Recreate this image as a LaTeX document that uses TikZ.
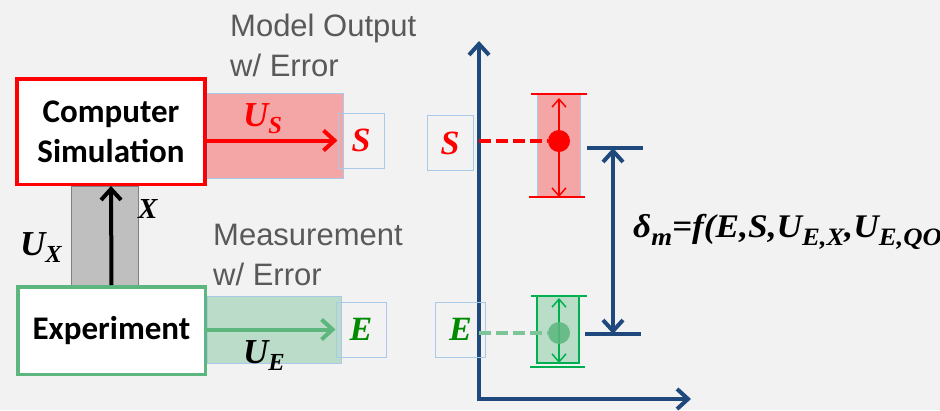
\documentclass[tikz,border=0pt]{standalone}
\usepackage{fontspec}
\setmainfont{Liberation Sans}
\newfontfamily\calibri{Carlito}
\newfontfamily\timesf{Liberation Serif}
\usetikzlibrary{arrows.meta,positioning}
\definecolor{bggray}{HTML}{F2F2F2}
\definecolor{simred}{HTML}{FF0000}
\definecolor{redfill}{HTML}{F4A6A6}
\definecolor{expgreen}{HTML}{5CB67E}
\definecolor{greenfill}{HTML}{BADCC8}
\definecolor{textgreen}{HTML}{008A00}
\definecolor{bargreen}{HTML}{00B050}
\definecolor{barfill}{HTML}{B9DDC6}
\definecolor{boxblue}{HTML}{A9C9E8}
\definecolor{axisblue}{HTML}{1F497D}
\definecolor{labelgray}{HTML}{595959}
\definecolor{xgray}{HTML}{BFBFBF}
% lowered subscript for the formula
\newcommand\fsub[1]{\raisebox{-8pt}{\fontsize{25}{25}\selectfont #1}}

\begin{document}
\begin{tikzpicture}[x=1pt,y=-1pt,
  mainbox/.style={draw,line width=3.5pt,fill=white,minimum width=188pt,align=center,
  inner sep=0pt,font=\calibri\bfseries\fontsize{33}{40}\selectfont},
  valbox/.style={draw=boxblue,line width=1pt,minimum width=46pt,minimum height=55pt,inner sep=0pt,
  font=\timesf\bfseries\itshape\fontsize{34}{38}\selectfont},
  graylbl/.style={text=labelgray,font=\fontsize{31}{40}\selectfont,align=left,anchor=base west,inner sep=0pt},
  symlbl/.style={anchor=base west,inner sep=0pt,font=\timesf\bfseries\itshape\fontsize{35}{38}\selectfont},
  band/.style={draw=boxblue,line width=1pt},
  arr/.style={line width=4pt,-{Straight Barb[length=11pt,width=20pt]}},
  axis/.style={draw=axisblue,line width=4pt,line join=miter,{Straight Barb[length=11pt,width=20pt]}-{Straight Barb[length=11pt,width=20pt]}},
  bararr/.style={line width=1.5pt,{Straight Barb[length=8pt,width=14pt]}-{Straight Barb[length=8pt,width=14pt]}},
  dashline/.style={line width=4pt,dash pattern=on 12pt off 5pt}]
\clip (0,0) rectangle (940,410);
\fill[bggray] (0,0) rectangle (940,410);

% left: simulation and experiment
\draw[fill=xgray,draw=gray,line width=1pt] (71,186) rectangle (138,286);
\draw[band,fill=redfill] (207,93) rectangle (343,178);
\draw[band,fill=greenfill] (207,296) rectangle (341,363);
\node[mainbox,draw=simred,minimum height=105.5pt] (sim) at (111,131.5) {Computer\\Simulation};
\node[mainbox,draw=expgreen,minimum height=87.5pt,minimum width=187.5pt] (exp) at (111.5,330.5) {Experiment};
\node[valbox,text=simred] (sbox) at (361,140.5) {S};
\node[valbox,text=textgreen,minimum width=50pt] (ebox) at (361,329.5) {E};
\draw[arr,simred] (sbox.west -| sim.east) -- (sbox.west);
\draw[arr,expgreen] (ebox.west -| exp.east) -- (ebox.west);
\draw[arr,black] (exp.north) -- (sim.south);
\node[symlbl,text=simred] (us) at (243,126) {U\textsubscript{S}};
\node[symlbl] (ue) at (243,363) {U\textsubscript{E}};
\node[symlbl] (ux) at (20,255) {U\textsubscript{X}};
\node[symlbl,font=\timesf\bfseries\itshape\fontsize{29}{32}\selectfont] (xlbl) at (138,218) {X};
\node[graylbl] (modlbl) at (230,76) {Model Output\\w/ Error};
\node[graylbl] (meslbl) at (213,285) {Measurement\\w/ Error};

% right: comparison plot
\coordinate (origin) at (479,399);
\coordinate (ytop) at (479,41);
\coordinate (xend) at (691,399);
\draw[axis] (ytop) -- (origin) -- (xend);
\node[valbox,text=simred] (sbox2) at (450,143) {S};
\node[valbox,text=textgreen,minimum width=50pt] (ebox2) at (460.5,329.5) {E};
\draw[band,fill=redfill] (537,94) rectangle (580,197);
\draw[draw=bargreen,line width=1.5pt,fill=barfill] (537,296) rectangle (579,363);
\draw[simred,line width=1.5pt] (531,94) -- (587,94) (529,197) -- (585,197);
\draw[bargreen,line width=1.5pt] (531,296) -- (587,296) (530,367) -- (585,367);
\draw[bararr,simred] (559,98) -- (559,197);
\draw[bararr,bargreen] (559,298) -- (559,363);
\node[circle,fill=simred,minimum size=22pt,inner sep=0pt] (sdot) at (559,141) {};
\node[circle,fill=expgreen,fill opacity=0.85,minimum size=22pt,inner sep=0pt] (edot) at (559,333) {};
\draw[dashline,simred] (sdot -| origin) -- (sdot.west);
\draw[dashline,expgreen!80] (edot -| origin) -- (edot.west);
\coordinate (dtop) at (613,148);
\coordinate (dbot) at (613,334);
\draw[axisblue,line width=4pt] ([xshift=-26pt]dtop) -- ([xshift=30pt]dtop)
  ([xshift=-28pt]dbot) -- ([xshift=28pt]dbot);
\draw[axis] (dtop) -- (dbot);
\node[symlbl,text=black,font=\timesf\bfseries\itshape\fontsize{33}{36}\selectfont] (delta) at (633,237)
  {\scalebox{1.07}[1]{δ\fsub{m}=f(E,S,U\fsub{E,X},U\fsub{E,QO}}};
\end{tikzpicture}
\end{document}
